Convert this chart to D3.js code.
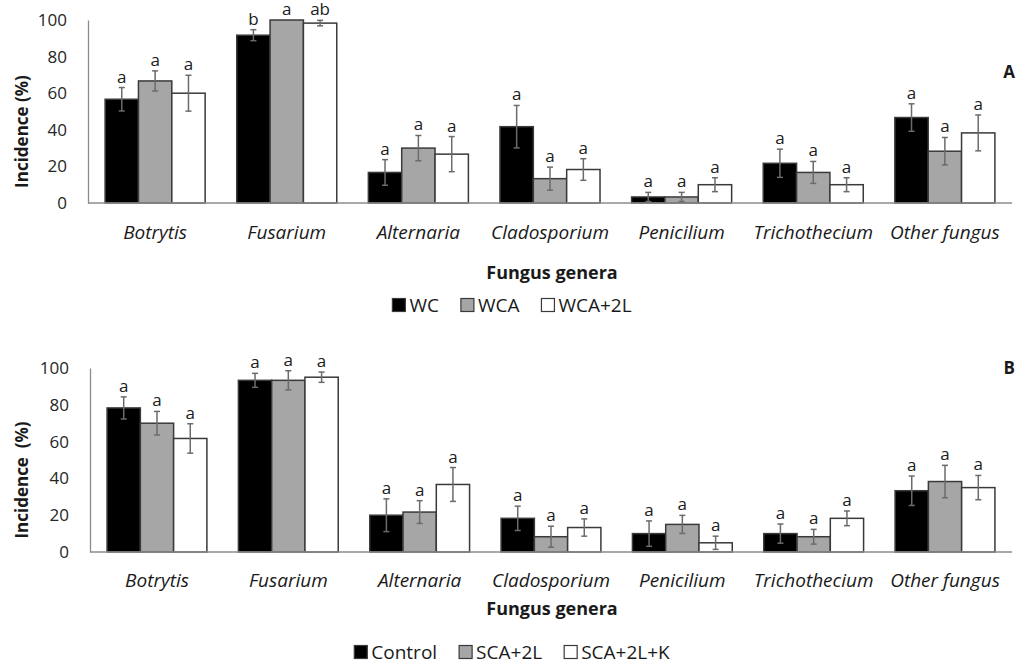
<!DOCTYPE html>
<html>
<head>
<meta charset="utf-8">
<script src="https://cdn.jsdelivr.net/npm/d3@7"></script>
<style>
    body { margin: 0; background: #fff; }
    #chart { width: 1017px; height: 664px; }
    text { font-family: "Open Sans", "DejaVu Sans", sans-serif; fill: #1a1a1a; }
</style>
</head>
<body>
<div id="chart"></div>
<script>
// fungus genera on the x axis (same for both panels)
const genera = ["Botrytis", "Fusarium", "Alternaria", "Cladosporium", "Penicilium", "Trichothecium", "Other fungus"]
const yTicks = [0, 20, 40, 60, 80, 100]

// panel A
const seriesA = ["WC", "WCA", "WCA+2L"]
const valuesA = [
    [56.7, 91.7, 16.7, 41.7, 3.3, 21.7, 46.7],
    [66.7, 100, 30.0, 13.3, 3.3, 16.7, 28.3],
    [60.0, 98.3, 26.7, 18.3, 10.0, 10.0, 38.3]
]
const errorsA = [
    [6.4, 3.0, 7.0, 11.6, 2.5, 7.7, 7.5],
    [5.5, 0, 6.9, 6.3, 2.5, 6.0, 7.5],
    [9.8, 1.5, 9.6, 5.9, 3.8, 3.8, 9.8]
]
const lettersA = [
    ["a", "b", "a", "a", "a", "a", "a"],
    ["a", "a", "a", "a", "a", "a", "a"],
    ["a", "ab", "a", "a", "a", "a", "a"]
]

// panel B
const seriesB = ["Control", "SCA+2L", "SCA+2L+K"]
const valuesB = [
    [78.3, 93.3, 20.0, 18.3, 10.0, 10.0, 33.3],
    [70.0, 93.3, 21.7, 8.3, 15.0, 8.3, 38.3],
    [61.7, 95.0, 36.7, 13.3, 5.0, 18.3, 35.0]
]
const errorsB = [
    [6.0, 3.8, 8.9, 6.6, 6.9, 5.2, 8.0],
    [6.4, 5.2, 6.2, 5.7, 4.9, 4.0, 8.8],
    [8.0, 2.8, 9.2, 4.7, 3.6, 4.0, 6.6]
]
const lettersB = [
    ["a", "a", "a", "a", "a", "a", "a"],
    ["a", "a", "a", "a", "a", "a", "a"],
    ["a", "a", "a", "a", "a", "a", "a"]
]

const fills = ["#000000", "#a6a6a6", "#ffffff"]

let svg = d3.select("#chart")
            .append("svg")
                .attr("width", 1017)
                .attr("height", 664)

drawPanel({
    series: seriesA, values: valuesA, errors: errorsA, letters: lettersA,
    x0: 88, x1: 1012, yZero: 203, yTop: 20,
    yLabel: "Incidence (%)", panel: "A", panelY: 78,
    catY: 239, titleY: 279, legendY: 305
})

drawPanel({
    series: seriesB, values: valuesB, errors: errorsB, letters: lettersB,
    x0: 90, x1: 1012, yZero: 552, yTop: 368,
    yLabel: "Incidence  (%)", panel: "B", panelY: 374,
    catY: 587, titleY: 615, legendY: 652
})

function drawPanel(cfg) {
    let g = svg.append("g")

    let x = d3.scaleBand()
                .domain(genera)
                .range([cfg.x0, cfg.x1])
                .paddingInner(0.24)
                .paddingOuter(0.13)
    let xs = d3.scaleBand()
                .domain(cfg.series)
                .range([0, x.bandwidth()])
    let y = d3.scaleLinear()
                .domain([0, 100])
                .range([cfg.yZero, cfg.yTop])

    // flatten to one record per bar
    let bars = []
    cfg.series.forEach((s, si) => {
        genera.forEach((gname, gi) => {
            bars.push({
                genus: gname, series: s, si: si,
                value: cfg.values[si][gi],
                err: cfg.errors[si][gi],
                letter: cfg.letters[si][gi]
            })
        })
    })

    // y axis
    let yAxis = g.append("g")
                    .attr("transform", `translate(${cfg.x0},0)`)
                    .call(d3.axisLeft(y).tickValues(yTicks).tickSize(0).tickPadding(21))
    yAxis.select(".domain").attr("stroke", "#8c8c8c").attr("stroke-width", 1.3)
    yAxis.selectAll("text")
            .style("font-size", "17px")
            .style("fill", "#262626")
            .style("font-family", "'Open Sans', sans-serif")

    g.selectAll("rect.bar")
        .data(bars)
        .enter().append("rect")
            .attr("class", "bar")
            .attr("x", d => x(d.genus) + xs(d.series))
            .attr("width", xs.bandwidth())
            .attr("y", d => y(d.value))
            .attr("height", d => y(0) - y(d.value))
            .attr("fill", d => fills[d.si])
            .attr("stroke", "#3a3a3a")
            .attr("stroke-width", 1.5)

    // x axis baseline
    g.append("line")
        .attr("x1", cfg.x0).attr("x2", cfg.x1)
        .attr("y1", y(0)).attr("y2", y(0))
        .attr("stroke", "#8c8c8c")
        .attr("stroke-width", 1.5)

    // error bars
    let eb = g.selectAll("g.err")
                .data(bars.filter(d => d.err > 0))
                .enter().append("g")
                    .attr("class", "err")
                    .attr("stroke", "#6b6b6b")
                    .attr("stroke-width", 1.5)
    let cx = d => x(d.genus) + xs(d.series) + xs.bandwidth() / 2
    eb.append("line")
        .attr("x1", cx).attr("x2", cx)
        .attr("y1", d => y(d.value + d.err))
        .attr("y2", d => y(d.value - d.err))
    eb.append("line")
        .attr("x1", d => cx(d) - 3).attr("x2", d => cx(d) + 3)
        .attr("y1", d => y(d.value + d.err))
        .attr("y2", d => y(d.value + d.err))
    eb.append("line")
        .attr("x1", d => cx(d) - 3).attr("x2", d => cx(d) + 3)
        .attr("y1", d => y(d.value - d.err))
        .attr("y2", d => y(d.value - d.err))

    // significance letters (kept inside the top edge)
    g.selectAll("text.letter")
        .data(bars)
        .enter().append("text")
            .attr("class", "letter")
            .attr("x", cx)
            .attr("y", d => Math.max(y(d.value + d.err) - 5, 15))
            .attr("text-anchor", "middle")
            .style("font-size", "17px")
            .text(d => d.letter)

    // category labels
    g.selectAll("text.cat")
        .data(genera)
        .enter().append("text")
            .attr("class", "cat")
            .attr("x", d => x(d) + x.bandwidth() / 2)
            .attr("y", cfg.catY)
            .attr("text-anchor", "middle")
            .style("font-size", "19px")
            .style("font-style", "italic")
            .text(d => d)

    g.append("text")
        .attr("x", 552)
        .attr("y", cfg.titleY)
        .attr("text-anchor", "middle")
        .style("font-size", "18px")
        .style("font-weight", "bold")
        .text("Fungus genera")

    g.append("text")
        .attr("transform", `translate(28,${(cfg.yZero + cfg.yTop) / 2 + 20}) rotate(-90)`)
        .attr("text-anchor", "middle")
        .style("font-size", "17px")
        .style("font-weight", "bold")
        .style("white-space", "pre")
        .text(cfg.yLabel)

    g.append("text")
        .attr("x", 1015)
        .attr("y", cfg.panelY)
        .attr("text-anchor", "end")
        .style("font-size", "17px")
        .style("font-weight", "bold")
        .text(cfg.panel)

    // legend, centred under the plot
    let lg = g.append("g")
    let cursor = 0
    cfg.series.forEach((s, si) => {
        let item = lg.append("g").attr("transform", `translate(${cursor},0)`)
        item.append("rect")
            .attr("x", 0).attr("y", -6.5)
            .attr("width", 13).attr("height", 13)
            .attr("fill", fills[si])
            .attr("stroke", "#3a3a3a")
            .attr("stroke-width", 1.2)
        let t = item.append("text")
                    .attr("x", 17).attr("y", 7)
                    .style("font-size", "19px")
                    .text(s)
        cursor += 17 + t.node().getComputedTextLength() + 22
    })
    let lw = cursor - 22
    lg.attr("transform", `translate(${512 - lw / 2},${cfg.legendY})`)
}
</script>
</body>
</html>
